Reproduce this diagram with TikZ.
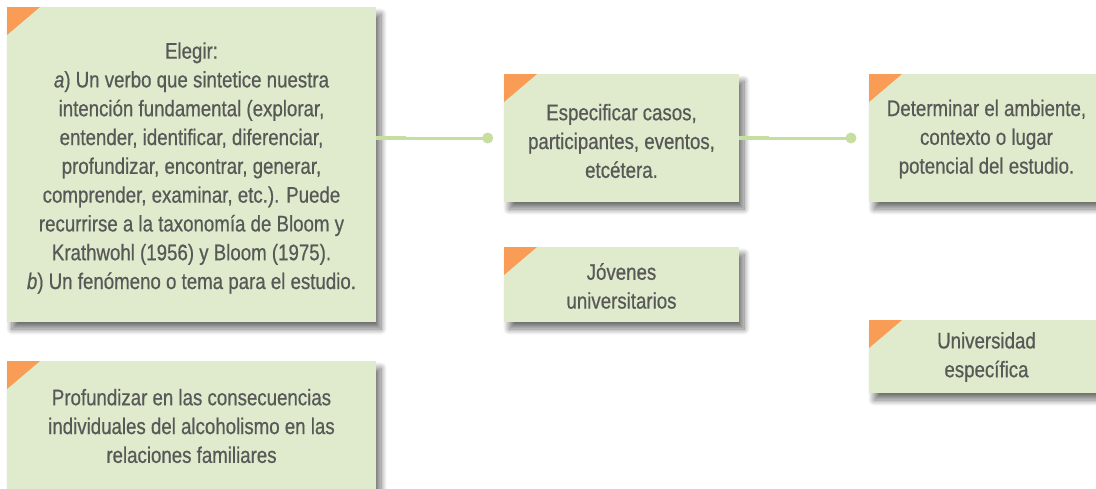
\documentclass[tikz,border=0pt]{standalone}
\usepackage{fontspec}
\setmainfont{Liberation Sans}[FakeStretch=0.83, FakeBold=0.6]
\usetikzlibrary{shadows.blur}
\definecolor{boxfill}{HTML}{E0EBCD}
\definecolor{cornerc}{HTML}{F89C56}
\definecolor{connc}{HTML}{C6DFA0}
\definecolor{textc}{HTML}{575957}
\tikzset{
  card/.style={rectangle, fill=boxfill, inner sep=0pt,
    blur shadow={shadow xshift=5pt, shadow yshift=-7pt, shadow blur steps=12, shadow blur radius=6pt, shadow opacity=55},
    path picture={\fill[cornerc] (path picture bounding box.north west) -- ++(33pt,0pt) -- ++(-33pt,-28pt) -- cycle;}},
  label/.style={align=center, text=textc, font=\fontsize{22.5pt}{28.8pt}\selectfont, inner sep=0pt},
  conn/.style={draw=connc, line width=3pt},
  conndot/.style={circle, fill=connc, minimum size=11pt, inner sep=0pt},
}
\begin{document}
\begin{tikzpicture}[x=1pt,y=-1pt]
\useasboundingbox (0,0) rectangle (1096,488);
% boxes
\node[card, minimum width=369pt, minimum height=315pt] (b1) at (191.5,164.5) {};
\node[card, minimum width=235pt, minimum height=128pt] (b2) at (621.5,138) {};
\node[card, minimum width=235pt, minimum height=128pt] (b3) at (986.5,138) {};
\node[card, minimum width=235pt, minimum height=75pt] (b4) at (621.5,284.5) {};
\node[card, minimum width=235pt, minimum height=73pt] (b5) at (986.5,356.5) {};
\node[card, minimum width=369pt, minimum height=128pt] (b6) at (191.5,425) {};
% texts
\node[label] (t1) at (191.5,168) {Elegir:\\
\textit{a}) Un verbo que sintetice nuestra\\
intención fundamental (explorar,\\
entender, identificar, diferenciar,\\
profundizar, encontrar, generar,\\
comprender, examinar, etc.). Puede\\
recurrirse a la taxonomía de Bloom y\\
Krathwohl (1956) y Bloom (1975).\\
\textit{b}) Un fenómeno o tema para el estudio.};
\node[label] (t2) at (621.5,141) {Especificar casos,\\participantes, eventos,\\etcétera.};
\node[label] (t3) at (986.5,139) {Determinar el ambiente,\\contexto o lugar\\potencial del estudio.};
\node[label] (t4) at (621.5,286) {Jóvenes\\universitarios};
\node[label] (t5) at (986.5,357) {Universidad\\específica};
\node[label] (t6) at (191.5,426) {Profundizar en las consecuencias\\individuales del alcoholismo en las\\relaciones familiares};
% connectors
\node[conndot] (d1) at (487.7,138) {};
\node[conndot] (d2) at (851,138) {};
\draw[conn] (b1.east |- d1) -- (d1.center);
\draw[conn, line width=4pt] (b1.east |- d1) -- ++(30,0);
\draw[conn] (b2.east |- d2) -- (d2.center);
\draw[conn, line width=4pt] (b2.east |- d2) -- ++(30,0);
\end{tikzpicture}
\end{document}
